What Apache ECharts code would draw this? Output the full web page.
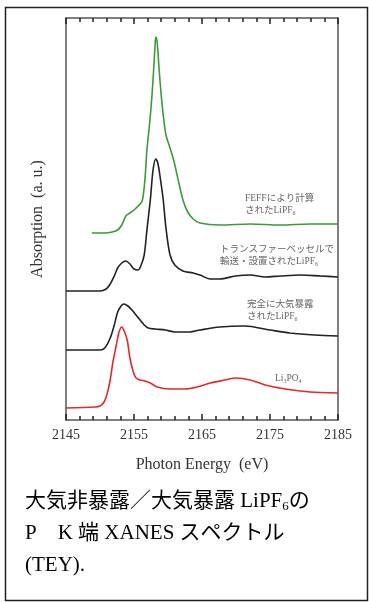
<!DOCTYPE html>
<html><head><meta charset="utf-8">
<script src="https://cdn.jsdelivr.net/npm/echarts@6/dist/echarts.min.js"></script>
<style>html,body{margin:0;padding:0;background:#fff}#c{width:369px;height:602px}</style>
</head><body><div id="c"></div>
<script>
// Photon energy (eV) / absorption (a.u., offset-stacked)
const feff = [[2148.8,1.87],[2150.7,1.87],[2151.8,1.88],[2152.6,1.90],[2153.2,1.95],[2153.8,2.04],[2154.4,2.07],[2155.0,2.10],[2155.6,2.14],[2156.2,2.19],[2156.6,2.40],[2156.9,2.70],[2157.2,2.90],[2157.5,3.12],[2157.8,3.40],[2158.1,3.75],[2158.2,3.83],[2158.4,3.78],[2158.7,3.50],[2159.0,3.25],[2159.3,3.05],[2159.7,2.85],[2160.3,2.72],[2160.9,2.58],[2161.5,2.40],[2162.2,2.20],[2162.9,2.08],[2163.7,2.01],[2164.7,1.97],[2167.6,1.95],[2172.1,1.96],[2176.5,1.95],[2180.9,1.96],[2185.0,1.96]];
const transfer = [[2145.0,1.29],[2150.0,1.29],[2150.9,1.31],[2151.5,1.36],[2152.1,1.44],[2152.6,1.52],[2153.2,1.57],[2153.8,1.59],[2154.4,1.56],[2155.0,1.51],[2155.6,1.50],[2156.0,1.54],[2156.5,1.65],[2156.9,1.90],[2157.4,2.20],[2157.8,2.50],[2158.2,2.61],[2158.5,2.57],[2158.8,2.45],[2159.3,2.20],[2159.7,1.92],[2160.3,1.65],[2161.0,1.55],[2162.2,1.49],[2163.7,1.47],[2164.7,1.45],[2166.2,1.41],[2167.6,1.41],[2169.9,1.44],[2172.1,1.45],[2174.3,1.43],[2176.5,1.44],[2179.4,1.45],[2182.4,1.44],[2185.0,1.43]];
const exposed = [[2145.0,0.70],[2150.0,0.70],[2150.7,0.72],[2151.5,0.82],[2152.1,0.95],[2152.6,1.08],[2153.1,1.14],[2153.5,1.16],[2154.1,1.14],[2154.7,1.10],[2155.3,1.05],[2155.9,1.00],[2156.5,0.95],[2157.1,0.92],[2158.1,0.91],[2159.6,0.90],[2161.0,0.88],[2163.2,0.88],[2164.7,0.90],[2167.6,0.93],[2171.3,0.94],[2175.0,0.90],[2177.9,0.87],[2181.6,0.85],[2185.0,0.84]];
const li3po4 = [[2145.0,0.12],[2149.3,0.13],[2150.0,0.14],[2150.6,0.18],[2151.0,0.25],[2151.5,0.40],[2151.9,0.58],[2152.4,0.75],[2152.8,0.88],[2153.2,0.93],[2153.5,0.90],[2154.0,0.80],[2154.4,0.62],[2154.9,0.48],[2155.3,0.42],[2155.9,0.40],[2156.6,0.39],[2157.4,0.37],[2158.4,0.33],[2160.3,0.31],[2162.5,0.31],[2164.3,0.33],[2166.2,0.37],[2168.4,0.40],[2169.9,0.42],[2172.1,0.40],[2174.3,0.35],[2177.2,0.31],[2180.9,0.28],[2185.0,0.27]];
const xMin = 2145, xMax = 2185, xStep = 10;
const yMin = 0, yMax = 4.02;

const serif = "'Liberation Serif','Times New Roman','Noto Sans CJK JP',serif";
function note(x, y, text){
  return {type:'text', left:x, top:y, silent:true,
    style:{fill:'#666', fontSize:9.5, fontFamily:serif, text:text, rich:{
      n:{fontSize:9.5, fontFamily:serif, color:'#666', lineHeight:12},
      s:{fontSize:6, fontFamily:serif, color:'#666', lineHeight:12, padding:[6,0,0,0]}
    }}};
}
const chart = echarts.init(document.getElementById('c'), null, {renderer:'canvas'});
const axisLine = {show:true, onZero:false, lineStyle:{color:'#555', width:1.5}};
const tick = {show:true, inside:true, length:6, lineStyle:{color:'#222', width:1.5}};
const minor = {show:true, splitNumber:5, length:4, lineStyle:{color:'#222', width:1.5}};
chart.setOption({
  animation:false,
  backgroundColor:'#fff',
  grid:{left:66, right:31, top:18, bottom:182},
  xAxis:[{
    type:'value', min:xMin, max:xMax, interval:xStep, position:'bottom',
    name:'Photon Energy  (eV)', nameLocation:'middle', nameGap:37,
    nameTextStyle:{fontFamily:serif, fontSize:16, color:'#333'},
    axisLine:axisLine, axisTick:tick, minorTick:minor,
    axisLabel:{fontFamily:serif, fontSize:14, color:'#333', margin:8, formatter:v => String(v)},
    splitLine:{show:false}, minorSplitLine:{show:false}
  },{
    type:'value', min:xMin, max:xMax, interval:xStep, position:'top',
    axisLine:axisLine, axisTick:tick, minorTick:minor,
    axisLabel:{show:false}, splitLine:{show:false}, minorSplitLine:{show:false}
  }],
  yAxis:[{
    type:'value', min:yMin, max:yMax, position:'left',
    name:'Absorption  (a. u.)', nameLocation:'middle', nameGap:20, nameRotate:90,
    nameTextStyle:{fontFamily:serif, fontSize:16, color:'#333'},
    axisLine:axisLine, axisTick:{show:false}, axisLabel:{show:false}, splitLine:{show:false}
  },{
    type:'value', min:yMin, max:yMax, position:'right',
    axisLine:axisLine, axisTick:{show:false}, axisLabel:{show:false}, splitLine:{show:false}
  }],
  series:[
    {type:'line', name:'FEFF', data:feff, smooth:0.3, symbol:'none', lineStyle:{color:'#3b9b3b', width:1.6}},
    {type:'line', name:'transfer', data:transfer, smooth:0.3, symbol:'none', lineStyle:{color:'#222', width:1.6}},
    {type:'line', name:'exposed', data:exposed, smooth:0.3, symbol:'none', lineStyle:{color:'#222', width:1.6}},
    {type:'line', name:'Li3PO4', data:li3po4, smooth:0.3, symbol:'none', lineStyle:{color:'#e62828', width:1.6}}
  ],
  graphic:[
    {type:'rect', left:3, top:5, shape:{width:362, height:593}, style:{fill:'none', stroke:'#222', lineWidth:1.5}, silent:true, z:-1},
    note(245, 194, '{n|FEFFにより計算}\n{n|されたLiPF}{s|6}'),
    note(220, 245, '{n|トランスファーベッセルで}\n{n|輸送・設置されたLiPF}{s|6}'),
    note(247, 300, '{n|完全に大気暴露}\n{n|されたLiPF}{s|6}'),
    note(275, 372, '{n|Li}{s|3}{n|PO}{s|4}'),
    {type:'text', left:25, top:490, silent:true, style:{
      text:'{a|大気非暴露／大気暴露 LiPF}{b|6}{a|の}\n{a|P　K 端 XANES スペクトル}\n{a|(TEY).}',
      rich:{a:{fontSize:21, fontFamily:serif, color:'#111', lineHeight:32},
            b:{fontSize:13, fontFamily:serif, color:'#111', lineHeight:32, padding:[10,0,0,0]}}
    }}
  ]
});
</script></body></html>
